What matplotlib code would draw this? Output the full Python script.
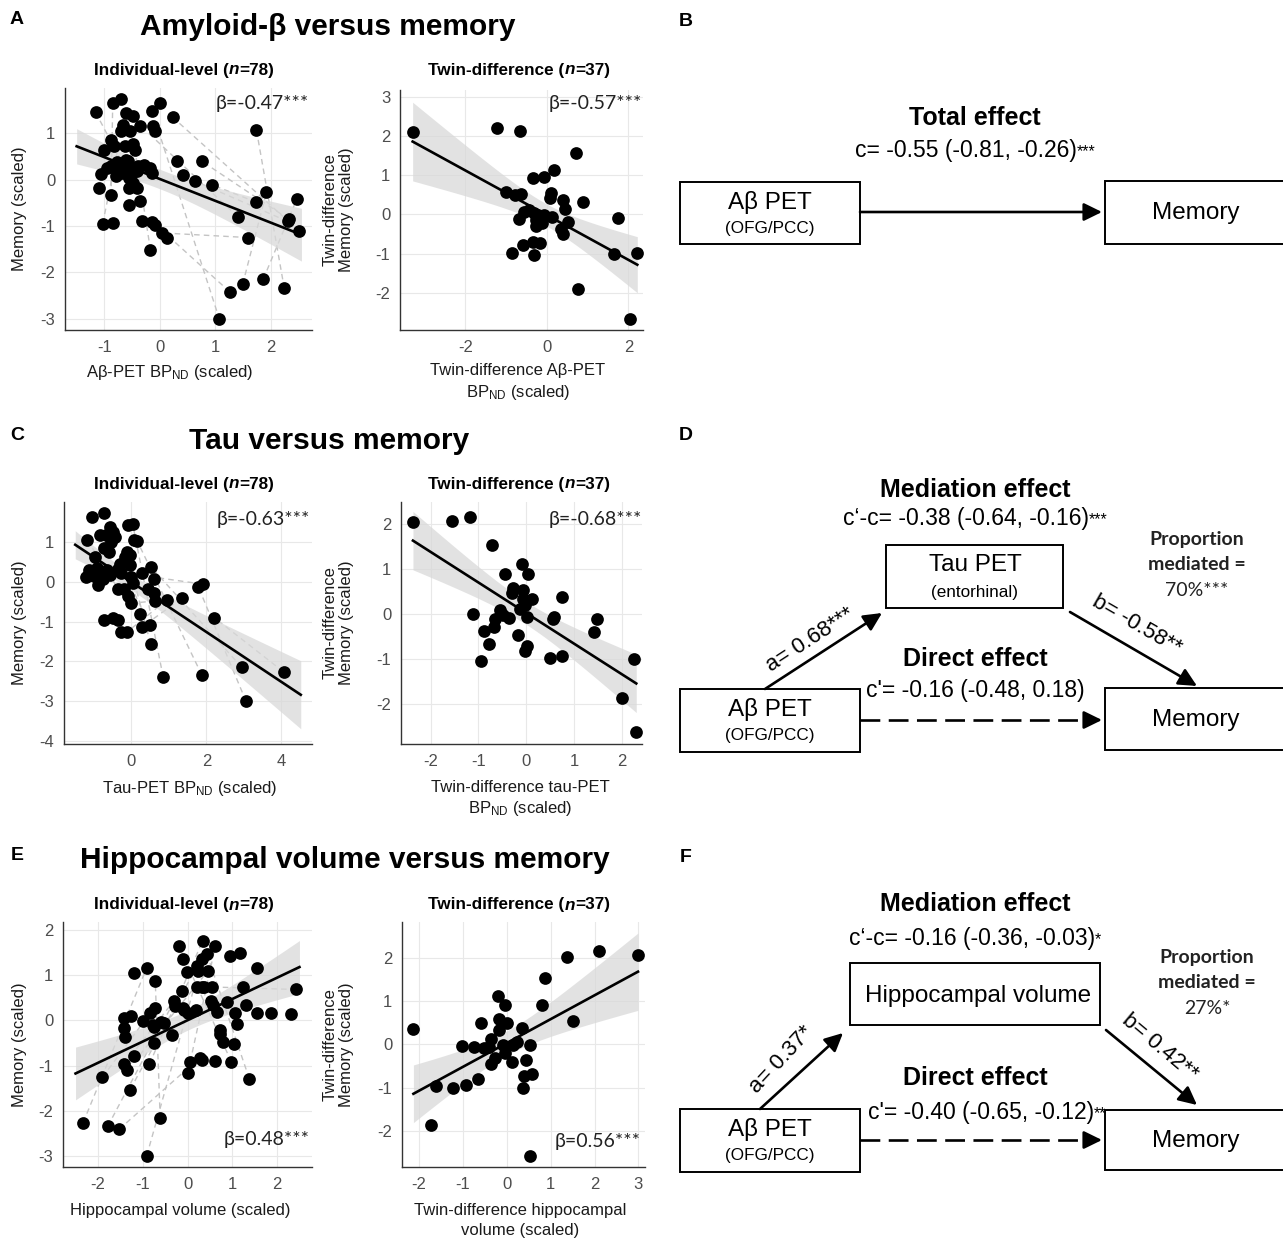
import numpy as np
import matplotlib
matplotlib.use('Agg')
import matplotlib.pyplot as plt
from matplotlib.patches import Rectangle
from matplotlib.offsetbox import TextArea, HPacker, AnnotationBbox

plt.rcParams['font.family'] = ['Liberation Sans', 'DejaVu Sans']
plt.rcParams['mathtext.fontset'] = 'custom'
plt.rcParams['mathtext.rm'] = 'Liberation Sans'
plt.rcParams['mathtext.it'] = 'Liberation Sans:italic'
plt.rcParams['mathtext.bf'] = 'Liberation Sans:bold'
plt.rcParams['axes.unicode_minus'] = False

# ---------------- data ----------------
# A: amyloid-beta vs memory, individual level
a_ind_x = [-1.16, -0.85, -0.71, -0.61, -0.48, -0.67, -0.70, -0.54, -0.35, -0.14,
           0.01, -0.13, -0.08, 0.23, 1.74, -0.89, -0.83, -1.00, -0.63, -0.49,
           -0.45, -0.57, -0.77, -0.88, -1.06, -0.80, -0.69, -0.58, -0.46, -0.29,
           -0.17, -0.14, -0.42, -0.55, -0.49, 0.30, 0.76, 0.42, 0.64, 0.93,
           -1.09, -0.55, -0.42, -0.88, -0.55, -0.35, -1.03, -0.85, -0.32, -0.14,
           -0.08, 0.04, 0.13, -0.17, 1.74, 1.92, 1.41, 1.59, 2.47, 2.33,
           2.30, 2.51, 1.26, 1.49, 1.86, 2.24, 1.07, -0.75, -0.62, -0.52,
           -0.95, -0.40]
a_ind_y = [1.45, 1.65, 1.73, 1.43, 1.36, 1.18, 1.04, 1.05, 1.16, 1.47,
           1.65, 1.16, 1.04, 1.34, 1.06, 0.85, 0.73, 0.63, 0.72, 0.77,
           0.63, 0.39, 0.37, 0.29, 0.11, 0.07, 0.14, 0.20, 0.22, 0.32,
           0.25, 0.14, 0.18, 0.04, -0.07, 0.39, 0.39, 0.09, -0.04, -0.11,
           -0.18, -0.18, -0.18, -0.34, -0.54, -0.47, -0.95, -0.93, -0.90, -0.92,
           -0.97, -1.15, -1.25, -1.52, -0.49, -0.27, -0.81, -1.25, -0.41, -0.86,
           -0.90, -1.11, -2.42, -2.26, -2.15, -2.34, -3.00, 0.30, 0.42, 0.10,
           0.25, 0.30]
a_ind_pairs = [(9, 66), (14, 65), (0, 34), (62, 50), (63, 55), (64, 58), (57, 51),
               (61, 13), (59, 36), (56, 8), (53, 20), (1, 43), (46, 5), (54, 39), (60, 38)]
a_ind_fit = [0.01, -0.47]          # intercept, slope (standardised beta)
a_ind_fit_range = [-1.50, 2.55]

# A: twin difference
a_tw_x = [-3.29, -1.23, -0.66, 0.72, 0.18, -0.35, -0.07, -1.01, -0.77, -0.64,
          0.10, 0.08, 0.39, 0.88, 0.45, -0.56, -0.44, -0.31, -0.21, -0.07,
          0.14, -0.68, -0.27, -0.11, 0.53, 1.74, -0.27, 0.35, 0.41, -0.35,
          -0.16, -0.58, -0.85, -0.31, 1.66, 2.22, 0.76, 2.03]
a_tw_y = [2.11, 2.21, 2.13, 1.56, 1.13, 0.92, 0.94, 0.58, 0.49, 0.51,
          0.54, 0.41, 0.37, 0.32, 0.13, 0.07, 0.11, 0.03, -0.02, -0.02,
          -0.06, -0.13, -0.14, -0.23, -0.20, -0.09, -0.31, -0.38, -0.49, -0.70,
          -0.74, -0.78, -0.98, -1.04, -1.01, -0.98, -1.91, -2.66]
a_tw_fit = [-0.02, -0.57]

# C: tau vs memory, individual level
c_ind_x = [-1.05, -0.73, -1.18, -0.85, -0.58, -0.49, -0.45, -0.67, -0.09, 0.03,
           0.06, 0.15, -0.13, -0.03, -0.18, -0.74, -0.61, -0.96, -0.04, -0.36,
           -0.27, -1.21, -1.12, -0.98, -0.85, -0.76, -0.89, -0.58, 0.00, 0.04,
           0.29, 0.51, 0.60, -0.36, -0.21, -0.09, 0.00, 0.45, 0.60, 0.64,
           0.94, 1.34, 1.79, 1.90, 2.21, -0.74, -0.49, -0.36, 0.22, 0.29,
           0.49, -0.27, -0.13, 0.51, 0.85, 1.88, 2.95, 4.06, 3.06, -1.00,
           -0.92, -0.55, -0.30, -0.65]
c_ind_y = [1.63, 1.72, 1.05, 1.17, 1.38, 1.26, 1.13, 1.17, 1.42, 1.46,
           1.05, 1.03, 0.75, 0.67, 0.63, 0.84, 0.75, 0.61, 0.42, 0.31,
           0.23, 0.11, 0.29, 0.25, 0.21, 0.08, -0.08, 0.17, 0.13, -0.04,
           0.23, 0.38, 0.06, -0.17, -0.19, -0.36, -0.54, -0.19, -0.28, -0.48,
           -0.46, -0.42, -0.14, -0.06, -0.90, -0.95, -0.92, -0.96, -0.82, -1.13,
           -1.09, -1.26, -1.27, -1.55, -2.40, -2.34, -2.15, -2.26, -3.00, 0.15,
           0.35, 1.00, 0.45, 0.30]
c_ind_pairs = [(58, 42), (57, 44), (56, 31), (55, 11), (54, 9), (53, 18), (41, 49),
               (40, 52), (39, 36), (43, 20), (2, 33), (50, 62)]
c_ind_fit = [-0.01, -0.625]
c_ind_fit_range = [-1.50, 4.52]

# C: twin difference
c_tw_x = [-2.37, -1.56, -1.17, -0.72, -0.10, 0.03, -0.44, -0.28, -0.30, -0.07,
          -0.06, 0.12, 0.75, -1.12, -0.56, -0.49, -0.37, -0.13, 0.01, -0.65,
          -0.67, -0.88, -0.77, -0.18, -0.02, 0.56, 0.59, 0.01, -0.02, -0.94,
          0.50, 0.75, 1.47, 1.42, 2.26, 2.00, 2.30]
c_tw_y = [2.04, 2.06, 2.15, 1.52, 1.10, 0.87, 0.89, 0.56, 0.46, 0.52,
          0.33, 0.33, 0.36, -0.01, 0.07, -0.04, -0.09, 0.11, -0.07, -0.11,
          -0.30, -0.39, -0.68, -0.48, 0.19, -0.11, -0.07, -0.73, -0.83, -1.05,
          -0.98, -0.95, -0.11, -0.42, -1.01, -1.87, -2.63]
c_tw_fit = [0.01, -0.68]

# E: hippocampal volume vs memory, individual level
e_ind_x = [-2.33, -1.90, -1.78, -1.53, -1.28, -1.42, -1.40, -1.42, -1.26, -1.19,
           -1.41, -1.34, -1.19, -0.91, -0.72, -1.00, -0.84, -0.72, -0.75, -0.74,
           -0.85, -0.78, -0.60, -0.52, -0.35, -0.30, -0.28, -0.61, -0.91, -0.19,
           -0.09, -0.13, -0.10, -0.07, -0.01, 0.01, 0.06, 0.01, 0.21, 0.23,
           0.19, 0.21, 0.27, 0.32, 0.34, 0.33, 0.43, 0.45, 0.32, 0.37,
           0.54, 0.52, 0.58, 0.62, 0.66, 0.72, 0.73, 0.79, 0.62, 0.94,
           0.98, 1.03, 1.07, 1.10, 1.18, 1.24, 1.31, 1.38, 1.55, 1.55,
           1.87, 2.30, 2.43, 0.88]
e_ind_y = [-2.26, -1.26, -2.34, -2.41, -1.53, -0.16, -0.38, 0.06, 0.09, 1.04,
           -0.97, -1.10, -0.79, 1.16, 0.87, -0.01, 0.15, 0.28, -0.15, -0.50,
           -0.97, -0.11, -0.04, -0.06, -0.33, 0.42, 0.31, -2.15, -2.99, 1.63,
           1.36, 0.65, 0.28, 0.22, 1.07, 0.16, -0.92, -1.16, 1.19, 1.08,
           0.22, 0.74, -0.83, -0.88, 1.76, 1.36, 1.47, 1.08, 0.74, 0.74,
           0.74, 0.43, 0.33, 1.63, 0.18, -0.22, -0.31, -0.48, -0.90, 1.43,
           -0.92, -0.53, 0.15, -0.09, 1.49, 0.74, 0.33, -1.29, 1.16, 0.15,
           0.17, 0.13, 0.68, 0.40]
e_ind_pairs = [(28, 45), (0, 13), (2, 25), (3, 42), (27, 14), (4, 38), (1, 16),
               (10, 31), (11, 47), (20, 44), (67, 46), (72, 49), (60, 29), (36, 53)]
e_ind_fit = [0.0, 0.47]
e_ind_fit_range = [-2.50, 2.50]

# E: twin difference
e_tw_x = [-2.13, -1.72, -1.61, -1.23, -0.93, -1.03, -0.74, -0.65, -0.59, -0.52,
          -0.40, -0.36, -0.36, -0.27, -0.21, -0.17, -0.17, -0.04, 0.00, -0.04,
          -0.09, 0.11, 0.15, 0.24, 0.34, 0.43, 0.53, 0.40, 0.57, 0.36,
          0.53, 0.80, 0.86, 1.38, 1.50, 2.09, 2.99]
e_tw_y = [0.36, -1.85, -0.96, -1.00, -0.93, -0.05, -0.06, -0.79, 0.50, -0.08,
          -0.06, 0.13, -0.46, -0.32, 1.11, 0.59, 0.32, 0.90, 0.48, -0.19,
          -0.02, -0.41, -0.02, 0.05, 0.38, -0.37, -0.02, -0.72, -0.68, -1.00,
          -2.58, 0.90, 1.52, 2.02, 0.53, 2.15, 2.05]
e_tw_fit = [0.03, 0.55]

betas = ['β=-0.47***', 'β=-0.57***', 'β=-0.63***', 'β=-0.68***', 'β=0.48***', 'β=0.56***']

# ---------------- figure ----------------
W, H = 1283, 1239
fig = plt.figure(figsize=(W / 100, H / 100), dpi=100)
ov = fig.add_axes([0, 0, 1, 1], zorder=0)
ov.set_xlim(0, W)
ov.set_ylim(H, 0)
ov.axis('off')

TICK_C = '#4d4d4d'
LAB_C = '#1a1a1a'
BETA_FONT = ['Lato', 'Open Sans', 'DejaVu Sans']


def px_axes(x0, y0, x1, y1):
    return fig.add_axes([x0 / W, 1 - y1 / H, (x1 - x0) / W, (y1 - y0) / H], zorder=2)


def scatter_panel(rect, x, y, fit, xlim, ylim, xticks, yticks, beta, beta_pos,
                  fit_range=None, pairs=None, tval=1.99):
    ax = px_axes(*rect)
    x = np.asarray(x, float)
    y = np.asarray(y, float)
    ax.set_xlim(xlim)
    ax.set_ylim(ylim)
    ax.set_xticks(xticks)
    ax.set_yticks(yticks)
    ax.set_facecolor('none')
    ax.grid(True, color='#e8e8e8', lw=0.8)
    ax.set_axisbelow(True)
    for s in ['top', 'right']:
        ax.spines[s].set_visible(False)
    for s in ['left', 'bottom']:
        ax.spines[s].set_color('#333333')
        ax.spines[s].set_linewidth(1.0)
    ax.tick_params(length=0, labelsize=12, labelcolor=TICK_C)
    ax.tick_params(axis='x', pad=7)
    ax.tick_params(axis='y', pad=7)
    if pairs:
        for i, j in pairs:
            ax.plot([x[i], x[j]], [y[i], y[j]], ls=(0, (4, 3)), color='#c4c4c4',
                    lw=1.0, zorder=1)
    n = len(x)
    b0, b1 = fit
    resid = y - (b0 + b1 * x)
    s = np.sqrt(np.sum(resid ** 2) / (n - 2))
    if fit_range is None:
        fit_range = [x.min(), x.max()]
    xs = np.linspace(fit_range[0], fit_range[1], 120)
    ys = b0 + b1 * xs
    se = s * np.sqrt(1.0 / n + (xs - x.mean()) ** 2 / np.sum((x - x.mean()) ** 2))
    ax.fill_between(xs, ys - tval * se, ys + tval * se, color='#d9d9d9', alpha=0.75,
                    lw=0, zorder=2)
    ax.scatter(x, y, s=84, color='black', lw=0, zorder=3)
    ax.plot(xs, ys, color='black', lw=1.9, zorder=4)
    ax.text(beta_pos[0], beta_pos[1], beta, ha='right', va='center', fontsize=14,
            family=BETA_FONT, color='#222222', transform=ov.transData, zorder=6)
    return ax


def rich(x, y, parts, size, color='black'):
    boxes = []
    for t, style, weight, sz in parts:
        boxes.append(TextArea(t, textprops=dict(fontsize=sz if sz else size, fontstyle=style,
                                                fontweight=weight, color=color,
                                                family=['Liberation Sans', 'DejaVu Sans'])))
    pack = HPacker(children=boxes, align='baseline', pad=0, sep=0)
    ab = AnnotationBbox(pack, (x, y), xycoords='data', frameon=False,
                        box_alignment=(0.5, 0.5), pad=0, zorder=5)
    ov.add_artist(ab)


def subtitle(x, y, label, n):
    rich(x, y, [(label + ' (', 'normal', 'bold', None), ('n', 'italic', 'bold', None),
                ('=' + n + ')', 'normal', 'bold', None)], 12.3)


# ----- scatter panels -----
scatter_panel((65, 88, 312, 330), a_ind_x, a_ind_y, a_ind_fit, (-1.71, 2.74), (-3.24, 1.97),
              [-1, 0, 1, 2], [-3, -2, -1, 0, 1], betas[0], (309, 104),
              fit_range=a_ind_fit_range, pairs=a_ind_pairs)
scatter_panel((400, 90, 643, 330), a_tw_x, a_tw_y, a_tw_fit, (-3.6, 2.36), (-2.95, 3.17),
              [-2, 0, 2], [-2, -1, 0, 1, 2, 3], betas[1], (642, 104), tval=2.03)
scatter_panel((64, 502, 312, 744), c_ind_x, c_ind_y, c_ind_fit, (-1.80, 4.82), (-4.07, 2.0),
              [0, 2, 4], [-4, -3, -2, -1, 0, 1], betas[2], (310, 519),
              fit_range=c_ind_fit_range, pairs=c_ind_pairs)
scatter_panel((401, 502, 642, 744), c_tw_x, c_tw_y, c_tw_fit, (-2.62, 2.42), (-2.9, 2.48),
              [-2, -1, 0, 1, 2], [-2, -1, 0, 1, 2], betas[3], (642, 519), tval=2.03)
scatter_panel((63, 922, 312, 1167), e_ind_x, e_ind_y, e_ind_fit, (-2.78, 2.78), (-3.24, 2.17),
              [-2, -1, 0, 1, 2], [-3, -2, -1, 0, 1, 2], betas[4], (310, 1140),
              fit_range=e_ind_fit_range, pairs=e_ind_pairs)
scatter_panel((402, 922, 645, 1167), e_tw_x, e_tw_y, e_tw_fit, (-2.39, 3.15), (-2.83, 2.82),
              [-2, -1, 0, 1, 2, 3], [-2, -1, 0, 1, 2], betas[5], (641, 1142), tval=2.03)

# ----- axis labels -----
LS = 12
def ylab1(x, y):
    ov.text(x, y, 'Memory (scaled)', rotation=90, ha='center', va='center',
            fontsize=LS, color=LAB_C)

def ylab2(x, y):
    ov.text(x, y, 'Twin-difference\nMemory (scaled)', rotation=90, ha='center',
            va='center', fontsize=LS, color=LAB_C, linespacing=1.1, multialignment='center')

ylab1(20, 209); ylab2(338, 210)
ylab1(20, 623); ylab2(338, 623)
ylab1(20, 1045); ylab2(338, 1045)

BPND = r'BP$_{\mathrm{ND}}$'
ov.text(170, 372, 'Aβ-PET ' + BPND + ' (scaled)', ha='center', va='center', fontsize=LS, color=LAB_C)
ov.text(518, 370, 'Twin-difference Aβ-PET', ha='center', va='center', fontsize=LS, color=LAB_C)
ov.text(518, 392, BPND + ' (scaled)', ha='center', va='center', fontsize=LS, color=LAB_C)
ov.text(190, 788, 'Tau-PET ' + BPND + ' (scaled)', ha='center', va='center', fontsize=LS, color=LAB_C)
ov.text(520, 788, 'Twin-difference tau-PET', ha='center', va='center', fontsize=LS, color=LAB_C)
ov.text(520, 809, BPND + ' (scaled)', ha='center', va='center', fontsize=LS, color=LAB_C)
ov.text(180, 1210, 'Hippocampal volume (scaled)', ha='center', va='center', fontsize=LS, color=LAB_C)
ov.text(520, 1210, 'Twin-difference hippocampal', ha='center', va='center', fontsize=LS, color=LAB_C)
ov.text(520, 1230, 'volume (scaled)', ha='center', va='center', fontsize=LS, color=LAB_C)

# ----- titles -----
for lab, (x, y) in zip('ABCDEF', [(17, 20), (686, 22), (17, 436), (686, 436), (17, 855), (686, 858)]):
    ov.text(x, y, lab, ha='center', va='center', fontsize=14, fontweight='bold')

for t, (x, y) in zip(['Amyloid-β versus memory', 'Tau versus memory',
                      'Hippocampal volume versus memory'],
                     [(328, 27), (329, 441), (345, 860)]):
    ov.text(x, y, t, ha='center', va='center', fontsize=21.5, fontweight='bold')

for yy in [70, 484, 905]:
    subtitle(184, yy, 'Individual-level', '78')
    subtitle(519, yy, 'Twin-difference', '37')

# ----- mediation diagrams -----
def box(x0, y0, x1, y1):
    ov.add_patch(Rectangle((x0, y0), x1 - x0, y1 - y0, fc='white', ec='black',
                           lw=1.4, zorder=3))


def arrow(p0, p1, dashed=False):
    style = '-|>,head_length=0.55,head_width=0.27'
    if dashed:
        ov.plot([p0[0], p1[0] - 12], [p0[1], p1[1]], ls=(0, (7.5, 3.2)), lw=1.9,
                color='black', zorder=4, solid_capstyle='butt')
        ov.annotate('', xy=p1, xytext=(p1[0] - 16, p1[1]),
                    arrowprops=dict(arrowstyle=style, lw=1.9, color='black',
                                    shrinkA=0, shrinkB=0, mutation_scale=20), zorder=4)
    else:
        ov.annotate('', xy=p1, xytext=p0,
                    arrowprops=dict(arrowstyle=style, lw=1.9, color='black',
                                    shrinkA=0, shrinkB=0, mutation_scale=20), zorder=4)


BOXF = 17.5
SUBF = 12.3
EFF = 18
VALF = 16.5


def abeta_box(y0, y1):
    box(680, y0, 860, y1)
    ym = (y0 + y1) / 2
    ov.text(770, ym - 11, 'Aβ PET', ha='center', va='center', fontsize=BOXF, zorder=5)
    ov.text(770, ym + 15, '(OFG/PCC)', ha='center', va='center', fontsize=SUBF, zorder=5)


def memory_box(y0, y1):
    box(1105, y0, 1295, y1)
    ov.text(1196, (y0 + y1) / 2 + 1, 'Memory', ha='center', va='center', fontsize=BOXF, zorder=5)


def value(x, y, main, stars):
    parts = [(main, 'normal', 'normal', VALF)]
    if stars:
        parts.append((stars, 'normal', 'normal', 11.5))
    rich(x, y, parts, VALF)


def proportion(x, y, pct):
    ov.text(x, y, 'Proportion', ha='center', va='center', fontsize=14,
            fontweight='bold', family=BETA_FONT, color='#222222')
    ov.text(x, y + 26, 'mediated =', ha='center', va='center', fontsize=14,
            fontweight='bold', family=BETA_FONT, color='#222222')
    ov.text(x, y + 52, pct, ha='center', va='center', fontsize=14,
            family=BETA_FONT, color='#222222')


# B
ov.text(975, 118, 'Total effect', ha='center', va='center', fontsize=EFF, fontweight='bold')
value(975, 150, 'c= -0.55 (-0.81, -0.26)', '***')
abeta_box(182, 244)
memory_box(181, 244)
arrow((860, 212), (1102, 212))

# D
ov.text(975, 490, 'Mediation effect', ha='center', va='center', fontsize=EFF, fontweight='bold')
value(975, 518, 'c‘-c= -0.38 (-0.64, -0.16)', '***')
box(886, 545, 1063, 608)
ov.text(975, 565, 'Tau PET', ha='center', va='center', fontsize=BOXF, zorder=5)
ov.text(975, 592, '(entorhinal)', ha='center', va='center', fontsize=SUBF, zorder=5)
proportion(1197, 539, '70%***')
abeta_box(689, 752)
memory_box(688, 750)
arrow((765, 689), (882, 613))
arrow((1070, 612), (1197, 686))
ov.text(810, 640, 'a= 0.68***', rotation=33, ha='center', va='center', fontsize=16, zorder=5)
ov.text(1137, 625, 'b= -0.58**', rotation=-30, ha='center', va='center', fontsize=16, zorder=5)
ov.text(975, 659, 'Direct effect', ha='center', va='center', fontsize=EFF, fontweight='bold')
value(975, 691, "c'= -0.16 (-0.48, 0.18)", '')
arrow((860, 720), (1102, 720), dashed=True)

# F
ov.text(975, 904, 'Mediation effect', ha='center', va='center', fontsize=EFF, fontweight='bold')
value(975, 938, 'c‘-c= -0.16 (-0.36, -0.03)', '*')
box(850, 963, 1100, 1025)
ov.text(978, 996, 'Hippocampal volume', ha='center', va='center', fontsize=BOXF, zorder=5)
proportion(1207, 957, '27%*')
abeta_box(1109, 1172)
memory_box(1110, 1170)
arrow((760, 1109), (843, 1033))
arrow((1106, 1030), (1197, 1105))
ov.text(781, 1060, 'a= 0.37*', rotation=47, ha='center', va='center', fontsize=16, zorder=5)
ov.text(1160, 1047, 'b= 0.42**', rotation=-40, ha='center', va='center', fontsize=16, zorder=5)
ov.text(975, 1078, 'Direct effect', ha='center', va='center', fontsize=EFF, fontweight='bold')
value(987, 1112, "c'= -0.40 (-0.65, -0.12)", '**')
arrow((860, 1140), (1102, 1140), dashed=True)

fig.savefig('out.png', dpi=100, facecolor='white')
